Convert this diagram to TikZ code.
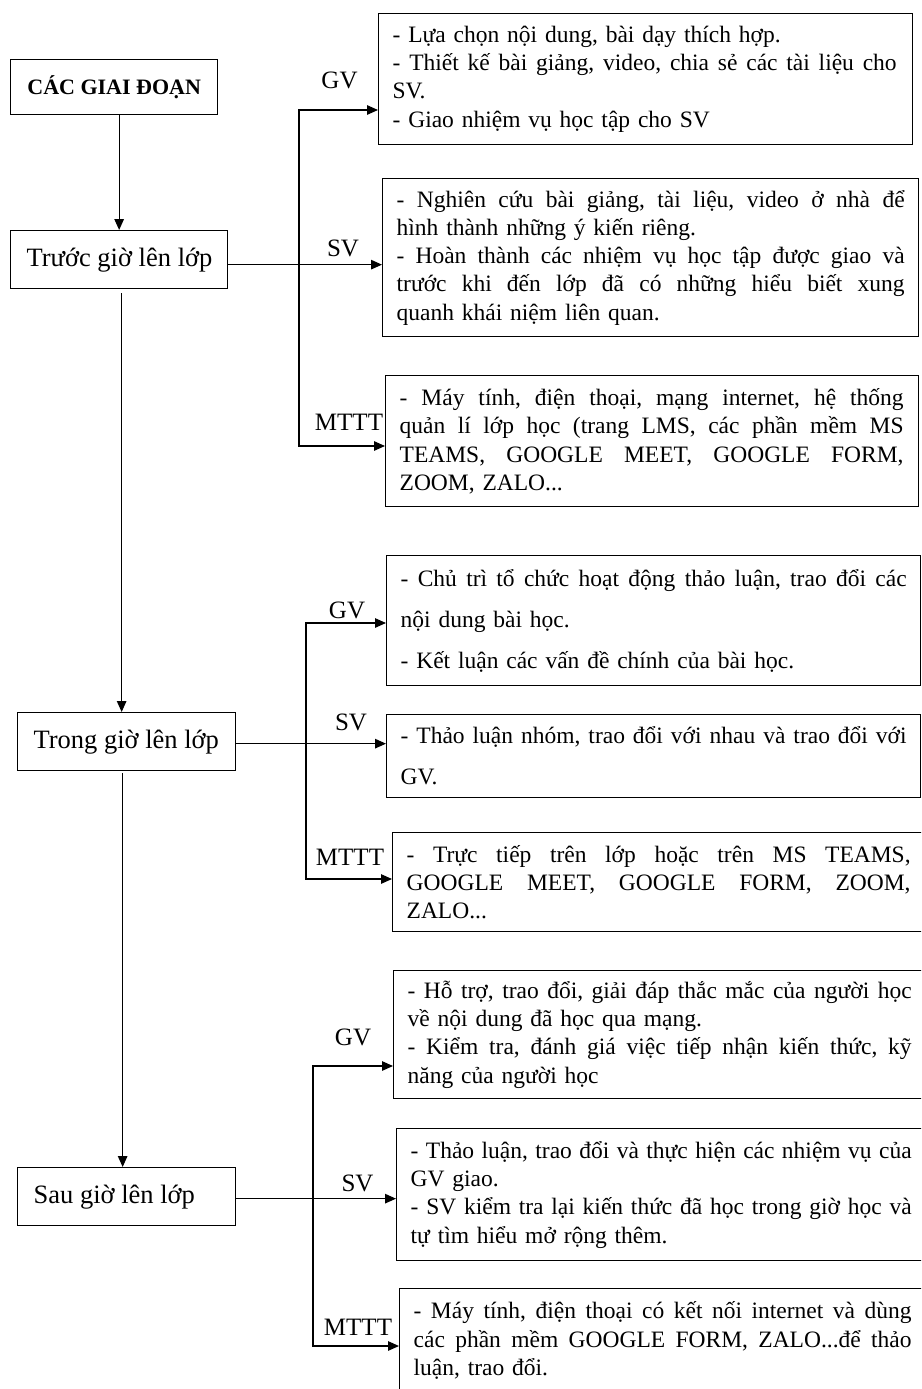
\documentclass[tikz,border=0pt]{standalone}
\usepackage{fontspec}
\setmainfont{Liberation Serif}
\usetikzlibrary{arrows.meta}
\newcommand\jl[2]{\leavevmode\hbox to #1pt{\spaceskip=0.25em plus 1fil\relax #2}}
\newcommand\rtext{\fontsize{23.5}{28.3}\selectfont\frenchspacing}
\newcommand\rtextwide{\fontsize{23.5}{41}\selectfont\frenchspacing}
\begin{document}
\begin{tikzpicture}[x=1pt,y=-1pt,
  box/.style={draw, line width=1.3pt, anchor=north west, inner xsep=14pt, inner ysep=0pt, align=left, font=\rtext},
  stagebox/.style={draw, line width=1.3pt, anchor=north west, inner xsep=16pt, inner ysep=0pt, font=\fontsize{26.5}{30}\selectfont},
  lbl/.style={font=\fontsize{25}{28}\selectfont, inner sep=0pt},
  arr/.style={line width=1.3pt, -{Triangle[length=11pt,width=9.5pt]}},
  dblarr/.style={line width=1.3pt, {Triangle[length=11pt,width=9.5pt]}-{Triangle[length=11pt,width=9.5pt]}}
]
\useasboundingbox (0,0) rectangle (921,1389);
\clip (0,0) rectangle (921,1389);

% stage boxes
\node[draw, line width=1.3pt, anchor=north west, minimum width=207pt, minimum height=55pt, inner sep=0pt,
  font=\fontsize{22}{25}\selectfont\bfseries] (title) at (10,59) {CÁC GIAI ĐOẠN};
\node[stagebox, minimum height=58pt] (tr) at (10,230) {\makebox[185pt][l]{Trước giờ lên lớp}};
\node[stagebox, minimum height=58pt] (tg) at (17,712) {\makebox[186pt][l]{Trong giờ lên lớp}};
\node[stagebox, minimum height=58pt] (sau) at (17,1167) {\makebox[186pt][l]{Sau giờ lên lớp}};

% stage 1 boxes
\node[box, text width=506pt, minimum height=131pt] (gv1) at (378,13) {%
- Lựa chọn nội dung, bài dạy thích hợp.\\
\jl{504}{- Thiết kế bài giảng, video, chia sẻ các tài liệu cho}\\
SV.\\
- Giao nhiệm vụ học tập cho SV};
\node[box, text width=508pt, minimum height=158pt] (sv1) at (382,178) {%
\jl{508}{- Nghiên cứu bài giảng, tài liệu, video ở nhà để}\\
hình thành những ý kiến riêng.\\
\jl{508}{- Hoàn thành các nhiệm vụ học tập được giao và}\\
\jl{508}{trước khi đến lớp đã có những hiểu biết xung}\\
quanh khái niệm liên quan.};
\node[box, text width=505pt, minimum height=131pt] (mt1) at (385,375) {%
\jl{504}{- Máy tính, điện thoại, mạng internet, hệ thống}\\
\jl{504}{quản lí lớp học (trang LMS, các phần mềm MS}\\
\jl{504}{TEAMS, GOOGLE MEET, GOOGLE FORM,}\\
ZOOM, ZALO...};

% stage 2 boxes
\node[box, font=\rtextwide, text width=506pt, minimum height=130pt] (gv2) at (386,555) {%
\jl{506}{- Chủ trì tổ chức hoạt động thảo luận, trao đổi các}\\
nội dung bài học.\\
- Kết luận các vấn đề chính của bài học.};
\node[box, font=\rtextwide, text width=506pt, minimum height=83pt] (sv2) at (386,714) {%
\jl{506}{- Thảo luận nhóm, trao đổi với nhau và trao đổi với}\\
GV.};
\node[box, text width=505pt, minimum height=99pt] (mt2) at (392,832) {%
\jl{504}{- Trực tiếp trên lớp hoặc trên MS TEAMS,}\\
\jl{504}{GOOGLE MEET, GOOGLE FORM, ZOOM,}\\
ZALO...};

% stage 3 boxes
\node[box, text width=504pt, minimum height=128pt] (gv3) at (393,970) {%
\jl{504}{- Hỗ trợ, trao đổi, giải đáp thắc mắc của người học}\\
về nội dung đã học qua mạng.\\
\jl{504}{- Kiểm tra, đánh giá việc tiếp nhận kiến thức, kỹ}\\
năng của người học};
\node[box, text width=501pt, minimum height=132pt] (sv3) at (396,1128) {%
\jl{501}{- Thảo luận, trao đổi và thực hiện các nhiệm vụ của}\\
GV giao.\\
\jl{501}{- SV kiểm tra lại kiến thức đã học trong giờ học và}\\
tự tìm hiểu mở rộng thêm.};
\node[box, text width=498pt, minimum height=104pt] (mt3) at (399,1288) {%
\jl{498}{- Máy tính, điện thoại có kết nối internet và dùng}\\
\jl{498}{các phần mềm GOOGLE FORM, ZALO...để thảo}\\
luận, trao đổi.};

% labels
\node[lbl] (l1g) at (339.5,80) {GV};
\node[lbl] (l1s) at (343,248) {SV};
\node[lbl] (l1m) at (349,422) {MTTT};
\node[lbl] (l2g) at (347,610) {GV};
\node[lbl] (l2s) at (351,722) {SV};
\node[lbl] (l2m) at (350,857) {MTTT};
\node[lbl] (l3g) at (353,1037) {GV};
\node[lbl] (l3s) at (357.5,1183) {SV};
\node[lbl] (l3m) at (358,1327) {MTTT};

% spine
\draw[arr] (title.south -| tr.north) -- (tr.north);
\draw[arr, shorten <=4pt] ([xshift=2.5pt]tr.south) -- ([xshift=2.5pt]tr.south |- tg.north);
\draw[arr, shorten <=2pt] ([xshift=-4pt]tg.south) -- ([xshift=-4pt]tg.south |- sau.north);

% branches
\coordinate (b1t) at (299,110);
\coordinate (b1b) at (299,446);
\draw[dblarr] (b1t -| gv1.west) -- (b1t) -- (b1b) -- (b1b -| mt1.west);
\draw[arr] ([yshift=-5pt]tr.east) -- ([yshift=-5pt]tr.east -| sv1.west);

\coordinate (b2t) at (306,623);
\coordinate (b2b) at (306,879);
\draw[dblarr] (b2t -| gv2.west) -- (b2t) -- (b2b) -- (b2b -| mt2.west);
\draw[arr] ([yshift=-2pt]tg.east) -- ([yshift=-2pt]tg.east -| sv2.west);

\coordinate (b3t) at (313,1066);
\coordinate (b3b) at (313,1346);
\draw[dblarr] (b3t -| gv3.west) -- (b3t) -- (b3b) -- (b3b -| mt3.west);
\draw[arr] ([yshift=-2pt]sau.east) -- ([yshift=-2pt]sau.east -| sv3.west);
\end{tikzpicture}
\end{document}
